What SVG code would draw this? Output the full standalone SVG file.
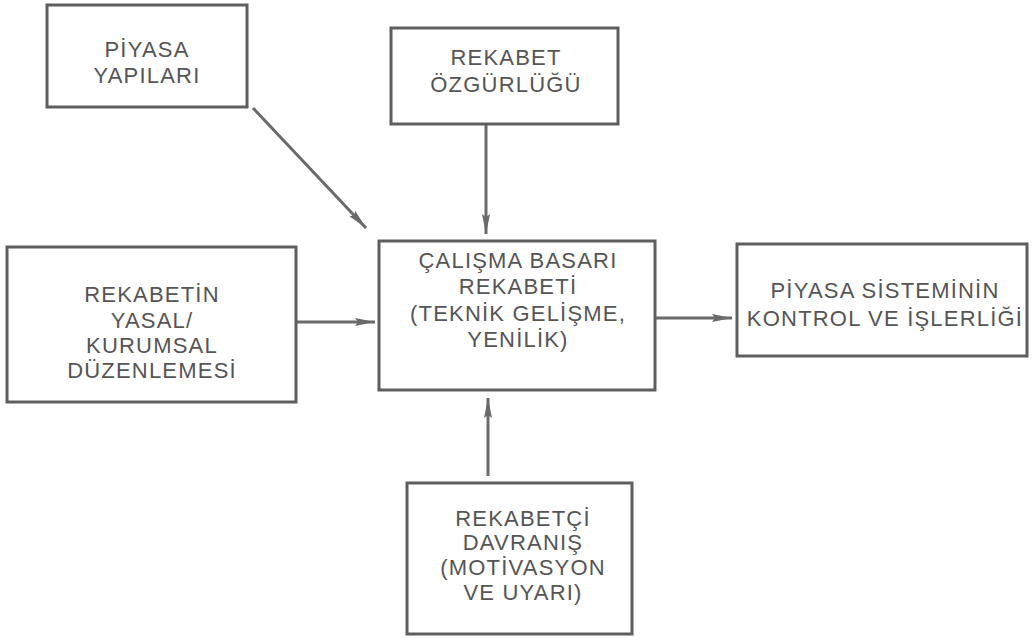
<svg xmlns="http://www.w3.org/2000/svg" width="1033" height="638" viewBox="0 0 1033 638">
<defs>
<style>
.box{fill:none;stroke:#5e5e5e;stroke-width:3}
.lbl{font-family:"Liberation Sans",Arial,sans-serif;font-size:22px;letter-spacing:1.2px;fill:#555;text-anchor:middle}
.con{stroke:#6a6a6a;stroke-width:3;fill:none;marker-end:url(#ah)}
</style>
<marker id="ah" markerUnits="userSpaceOnUse" markerWidth="22" markerHeight="12" refX="20" refY="6" orient="auto">
<path d="M0,2 L20,6 L0,10 L3,6 Z" fill="#6a6a6a"/>
</marker>
</defs>
<rect width="1033" height="638" fill="#fff"/>
<g id="connectors">
<line class="con" x1="253" y1="108" x2="366" y2="228"/>
<line class="con" x1="486" y1="125" x2="486" y2="234"/>
<line class="con" x1="296" y1="322" x2="375" y2="322"/>
<line class="con" x1="656" y1="318" x2="732" y2="318"/>
<line class="con" x1="488" y1="476" x2="488" y2="398"/>
</g>
<g id="piyasa-yapilari">
<rect class="box" x="47" y="5" width="200" height="102"/>
<text class="lbl" x="147" y="57">PİYASA</text>
<text class="lbl" x="147" y="83">YAPILARI</text>
</g>
<g id="rekabet-ozgurlugu">
<rect class="box" x="391" y="28" width="227" height="96"/>
<text class="lbl" x="506" y="65">REKABET</text>
<text class="lbl" x="506" y="92">ÖZGÜRLÜĞÜ</text>
</g>
<g id="rekabetin-duzenlemesi">
<rect class="box" x="7" y="247" width="289" height="155"/>
<text class="lbl" x="152" y="302">REKABETİN</text>
<text class="lbl" x="152" y="328">YASAL/</text>
<text class="lbl" x="152" y="353">KURUMSAL</text>
<text class="lbl" x="152" y="378">DÜZENLEMESİ</text>
</g>
<g id="calisma-basari">
<rect class="box" x="379" y="241" width="276" height="149"/>
<text class="lbl" x="518" y="268">ÇALIŞMA BASARI</text>
<text class="lbl" x="518" y="294">REKABETİ</text>
<text class="lbl" x="518" y="321">(TEKNİK GELİŞME,</text>
<text class="lbl" x="518" y="347">YENİLİK)</text>
</g>
<g id="piyasa-sistemi">
<rect class="box" x="737" y="244" width="290" height="112"/>
<text class="lbl" x="885" y="298">PİYASA SİSTEMİNİN</text>
<text class="lbl" x="885" y="326">KONTROL VE İŞLERLİĞİ</text>
</g>
<g id="rekabetci-davranis">
<rect class="box" x="407" y="483" width="225" height="151"/>
<text class="lbl" x="523" y="526">REKABETÇİ</text>
<text class="lbl" x="523" y="550">DAVRANIŞ</text>
<text class="lbl" x="523" y="575">(MOTİVASYON</text>
<text class="lbl" x="523" y="600">VE UYARI)</text>
</g>
</svg>
